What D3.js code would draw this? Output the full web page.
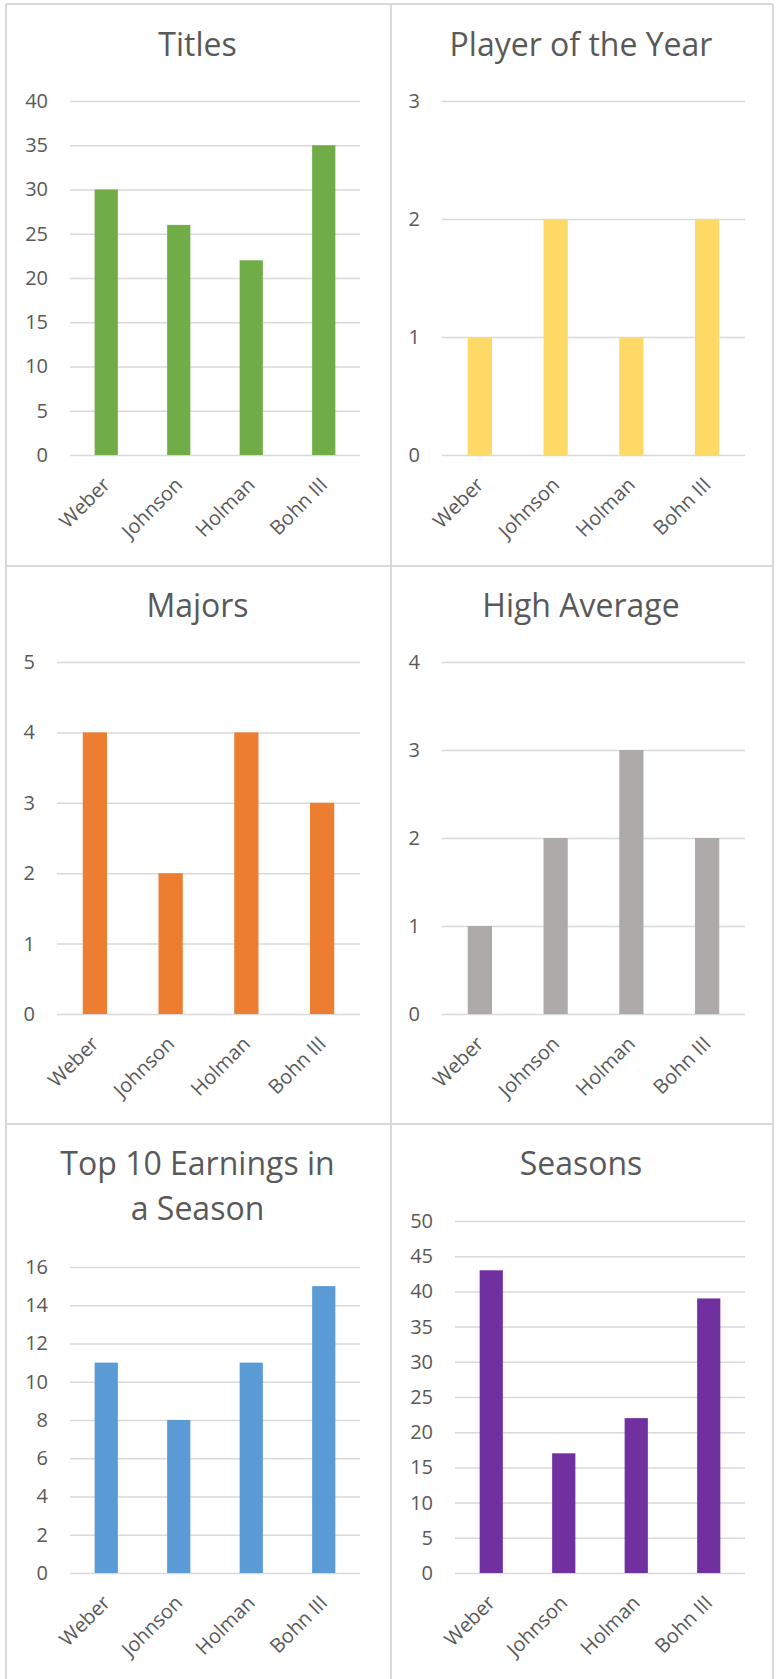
<!DOCTYPE html>
<html>
<head>
<meta charset="utf-8">
<script src="https://cdn.jsdelivr.net/npm/d3@7"></script>
<style>
  html, body { margin: 0; padding: 0; background: #ffffff; }
  svg { display: block; }
  text { font-family: "Open Sans", "Noto Sans", sans-serif; }
</style>
</head>
<body>
<svg id="chart" width="779" height="1679"></svg>
<script>
// ---- data ----
const categories = ["Weber", "Johnson", "Holman", "Bohn III"];

const chartTitles = ["Titles", "Player of the Year", "Majors", "High Average", "Top 10 Earnings in|a Season", "Seasons"];

const titlesValues = [30, 26, 22, 35];
const playerOfYearValues = [1, 2, 1, 2];
const majorsValues = [4, 2, 4, 3];
const highAverageValues = [1, 2, 3, 2];
const top10Values = [11, 8, 11, 15];
const seasonsValues = [43, 17, 22, 39];

const titlesTicks = [0, 5, 10, 15, 20, 25, 30, 35, 40];
const playerOfYearTicks = [0, 1, 2, 3];
const majorsTicks = [0, 1, 2, 3, 4, 5];
const highAverageTicks = [0, 1, 2, 3, 4];
const top10Ticks = [0, 2, 4, 6, 8, 10, 12, 14, 16];
const seasonsTicks = [0, 5, 10, 15, 20, 25, 30, 35, 40, 45, 50];

const seriesColors = ["#70AD47", "#FFD966", "#ED7D31", "#AEAAAA", "#5B9BD5", "#7030A0"];

// ---- layout ----
const svg = d3.select("#chart");
const colX = [6, 391];
const colRight = [391, 773];
const rows = [
  { top: 4, titleY: 56, plotTop: 101, plotBottom: 455 },
  { top: 566, titleY: 617, plotTop: 662, plotBottom: 1014 },
  { top: 1124, titleY: 1175, plotTop: 1221, plotBottom: 1573 }
];

const charts = [
  { values: titlesValues, ticks: titlesTicks },
  { values: playerOfYearValues, ticks: playerOfYearTicks },
  { values: majorsValues, ticks: majorsTicks },
  { values: highAverageValues, ticks: highAverageTicks },
  { values: top10Values, ticks: top10Ticks },
  { values: seasonsValues, ticks: seasonsTicks }
];

// panel borders
const borderColor = "#D9D9D9";
const borders = svg.append("g").attr("stroke", borderColor).attr("stroke-width", 2).attr("fill", "none");
borders.append("line").attr("x1", 6).attr("x2", 6).attr("y1", 4).attr("y2", 1679);
borders.append("line").attr("x1", 773).attr("x2", 773).attr("y1", 4).attr("y2", 1679);
borders.append("line").attr("x1", 391).attr("x2", 391).attr("y1", 4).attr("y2", 1679);
[4, 566, 1124].forEach(y => {
  borders.append("line").attr("x1", 6).attr("x2", 773).attr("y1", y).attr("y2", y);
});

charts.forEach((c, i) => {
  const col = i % 2, row = Math.floor(i / 2);
  const r = rows[row];
  const px = colX[col];
  const maxLabelLen = d3.max(c.ticks, t => String(t).length);
  const left = px + (maxLabelLen > 1 ? 64 : 51);
  const right = px + 354;
  const titleLines = chartTitles[i].split("|");
  const top = r.plotTop + (titleLines.length > 1 ? 46 : 0);
  const bottom = r.plotBottom;

  const g = svg.append("g");

  // title
  const cx = (px + colRight[col]) / 2 - 1;
  titleLines.forEach((line, k) => {
    g.append("text")
      .attr("x", cx)
      .attr("y", r.titleY + k * 45)
      .attr("text-anchor", "middle")
      .attr("font-size", 32)
      .attr("fill", "#595959")
      .text(line);
  });

  const x = d3.scaleBand().domain(categories).range([left, right]).paddingInner(0.68).paddingOuter(0.34);
  const y = d3.scaleLinear().domain([0, d3.max(c.ticks)]).range([bottom, top]);

  // gridlines + value labels
  const yAxis = d3.axisLeft(y).tickValues(c.ticks).tickSize(-(right - left)).tickPadding(22).tickFormat(d3.format("d"));
  const ga = g.append("g").attr("transform", `translate(${left},0)`).call(yAxis);
  ga.select(".domain").remove();
  ga.selectAll(".tick line").attr("stroke", "#D9D9D9").attr("stroke-width", 1.5);
  ga.selectAll(".tick text").attr("fill", "#595959").attr("font-size", 20)
    .attr("font-family", "'Open Sans', 'Noto Sans', sans-serif");

  // bars
  g.append("g").selectAll("rect").data(c.values).join("rect")
    .attr("x", (d, j) => x(categories[j]))
    .attr("width", x.bandwidth())
    .attr("y", d => y(d))
    .attr("height", d => y(0) - y(d))
    .attr("fill", seriesColors[i]);

  // category labels
  const xAxis = d3.axisBottom(x).tickSize(0).tickPadding(0);
  const gx = g.append("g").attr("transform", `translate(0,${bottom})`).call(xAxis);
  gx.select(".domain").remove();
  gx.selectAll(".tick text")
    .attr("fill", "#595959")
    .attr("font-size", 20)
    .attr("font-family", "'Open Sans', 'Noto Sans', sans-serif")
    .attr("text-anchor", "end")
    .attr("y", 0)
    .attr("dy", 0)
    .attr("transform", "translate(5,31) rotate(-45)");
});
</script>
</body>
</html>
